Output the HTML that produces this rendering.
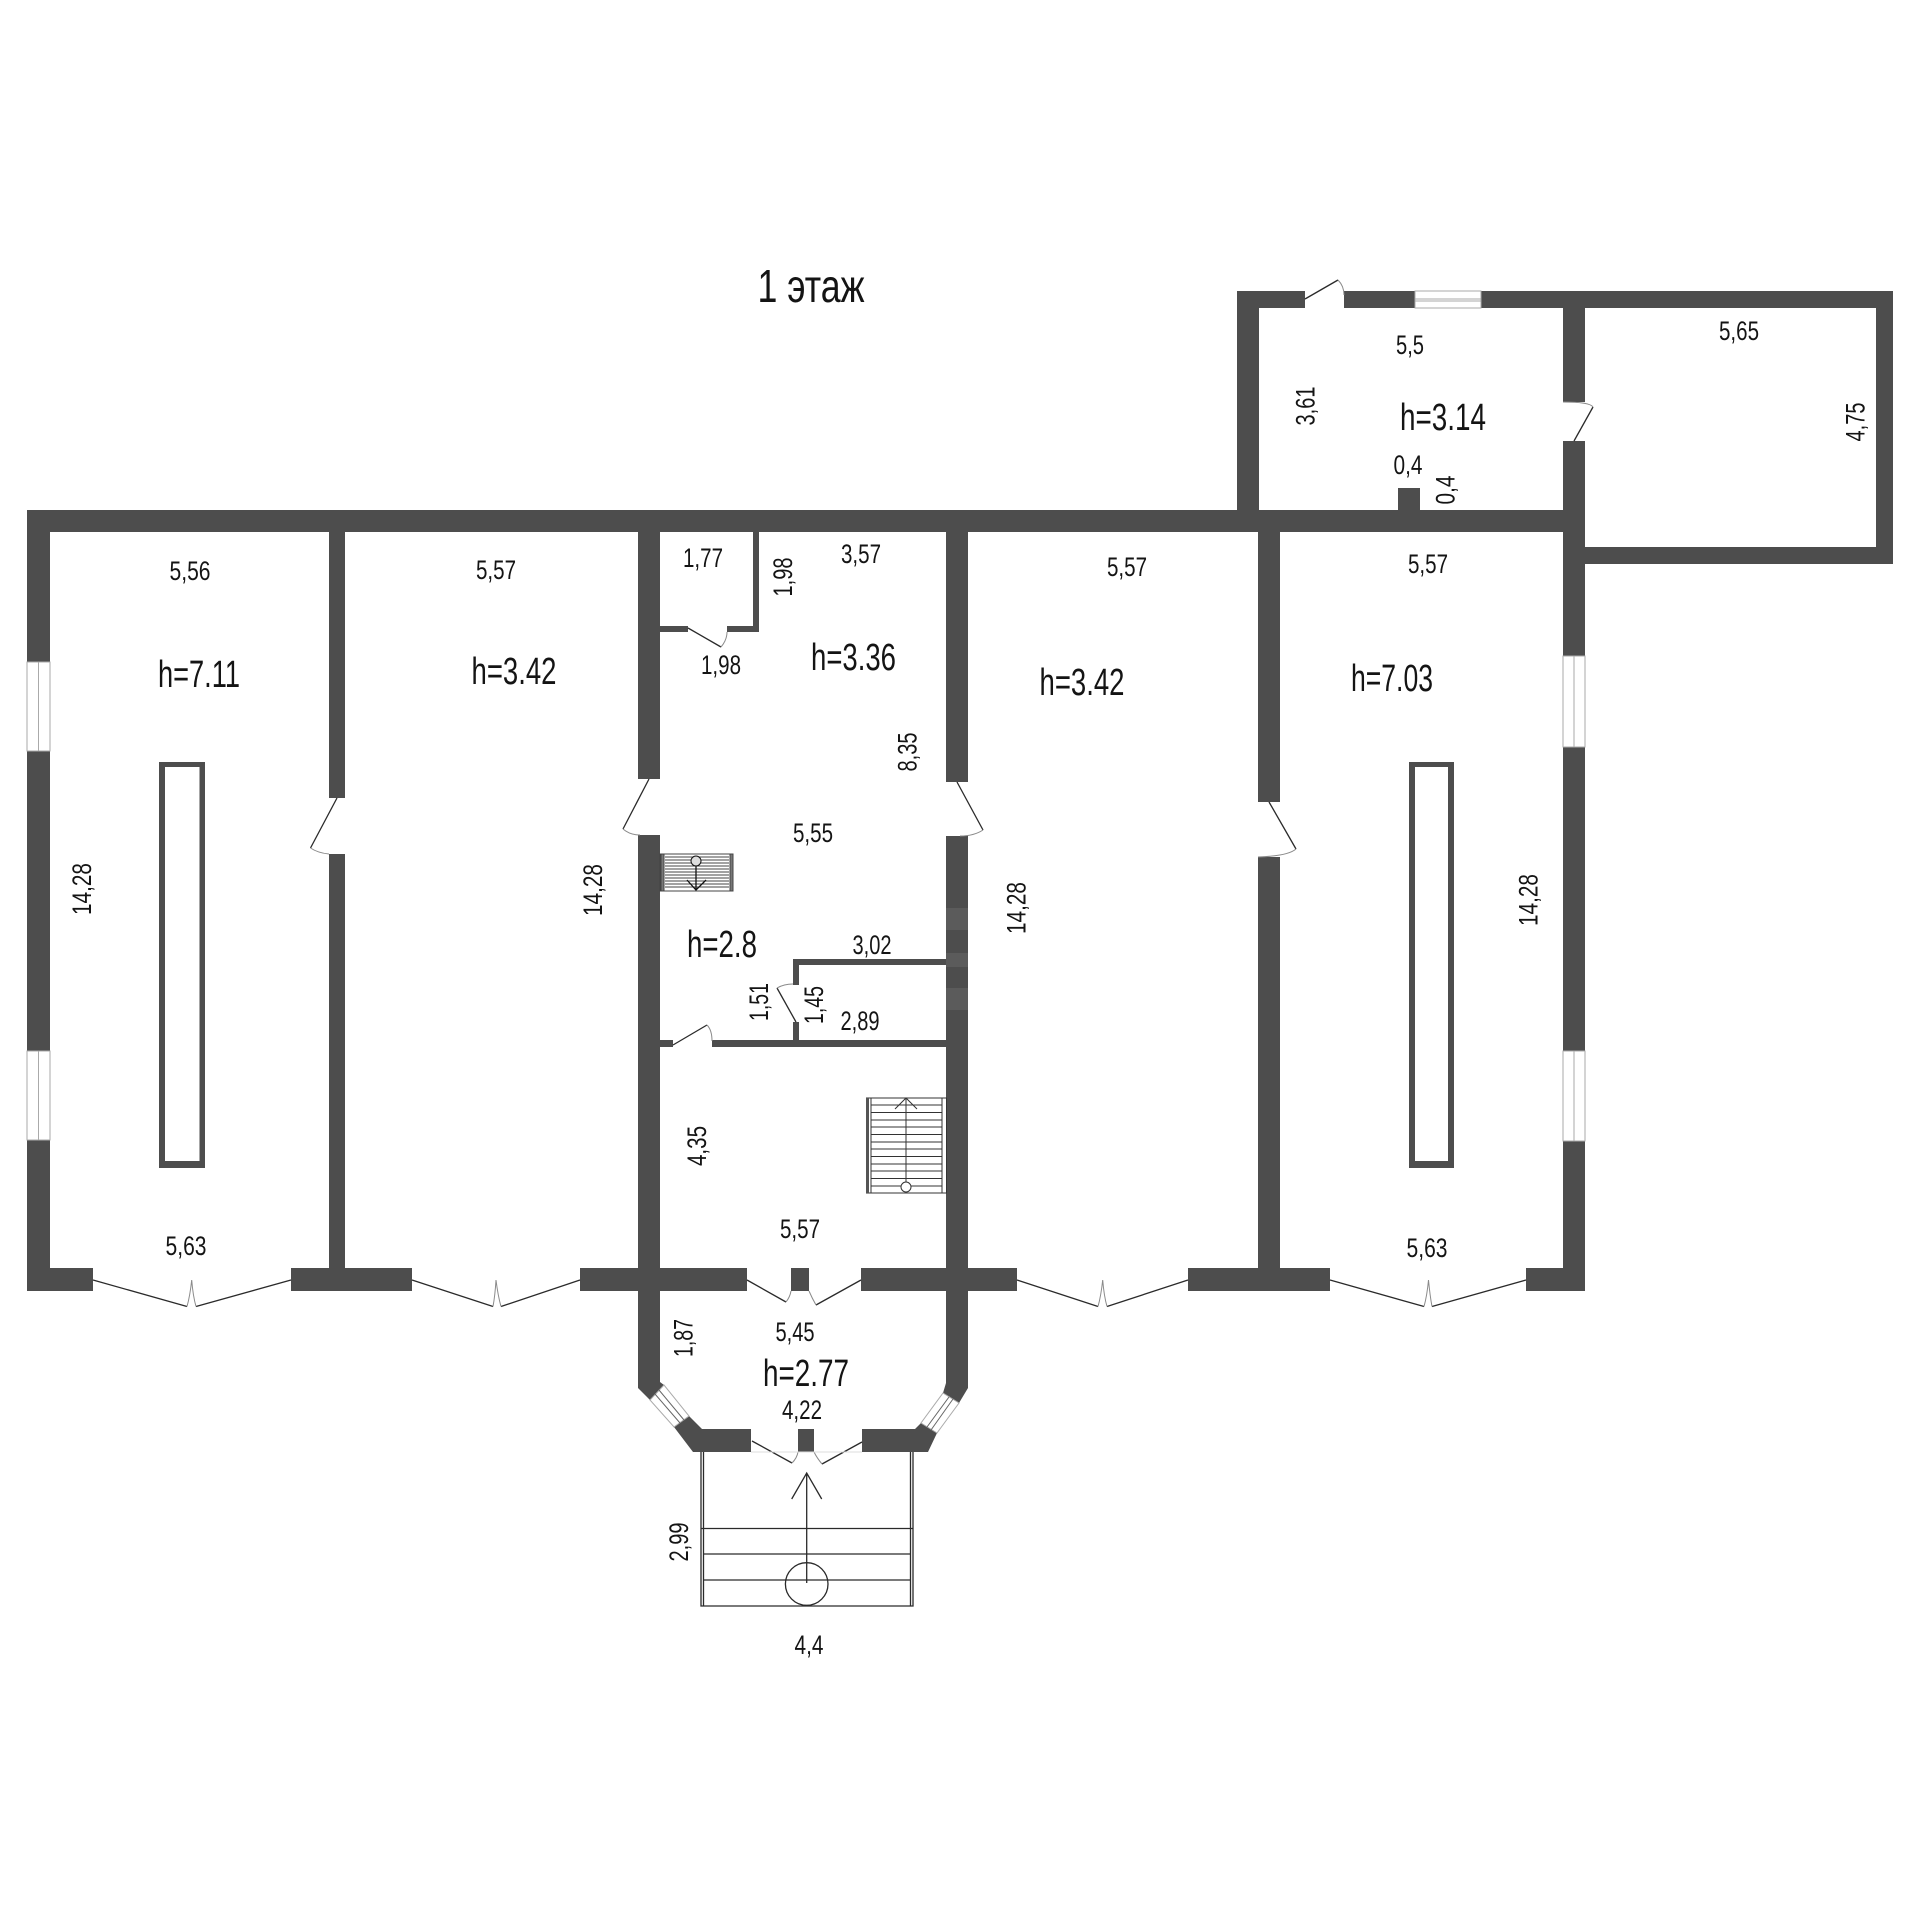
<!DOCTYPE html>
<html><head><meta charset="utf-8"><style>
html,body{margin:0;padding:0;background:#fff;width:1920px;height:1920px;overflow:hidden}
svg{display:block}
text{font-family:"Liberation Sans Narrow","Liberation Sans",sans-serif;fill:#141414;text-anchor:middle}
.s{font-size:27px}.b{font-size:38px}
.w{fill:#4d4d4d}
.l{fill:none;stroke:#2a2a2a;stroke-width:1.3}
.a{fill:none;stroke:#8a8a8a;stroke-width:1}
.g{fill:#fff;stroke:#aaa;stroke-width:1}
</style></head><body>
<svg width="1920" height="1920" viewBox="0 0 1920 1920" xmlns="http://www.w3.org/2000/svg">
<rect width="1920" height="1920" fill="#fff"/>
<g class="w">
<rect x="27" y="510" width="1558" height="22"/>
<rect x="27" y="510" width="23" height="152"/>
<rect x="27" y="751" width="23" height="300"/>
<rect x="27" y="1140" width="23" height="151"/>
<rect x="329" y="532" width="16" height="266"/>
<rect x="329" y="854" width="16" height="414"/>
<rect x="638" y="532" width="22" height="247"/>
<rect x="638" y="835" width="22" height="460"/>
<rect x="946" y="532" width="22" height="250"/>
<rect x="946" y="836" width="22" height="460"/>
<rect x="1258" y="532" width="22" height="270"/>
<rect x="1258" y="857" width="22" height="411"/>
<rect x="1563" y="291" width="22" height="111"/>
<rect x="1563" y="441" width="22" height="215"/>
<rect x="1563" y="747" width="22" height="304"/>
<rect x="1563" y="1141" width="22" height="150"/>
<rect x="27" y="1268" width="66" height="23"/>
<rect x="291" y="1268" width="121" height="23"/>
<rect x="580" y="1268" width="167" height="23"/>
<rect x="791" y="1268" width="18" height="23"/>
<rect x="861" y="1268" width="156" height="23"/>
<rect x="1188" y="1268" width="142" height="23"/>
<rect x="1526" y="1268" width="59" height="23"/>
<rect x="1237" y="291" width="22" height="220"/>
<rect x="1237" y="291" width="68" height="17"/>
<rect x="1344" y="291" width="71" height="17"/>
<rect x="1481" y="291" width="412" height="17"/>
<rect x="1876" y="291" width="17" height="273"/>
<rect x="1585" y="547" width="308" height="17"/>
<rect x="1398" y="488" width="22" height="23"/>
<rect x="753" y="532" width="6" height="100"/>
<rect x="660" y="626" width="28" height="6"/>
<rect x="727" y="626" width="32" height="6"/>
<rect x="660" y="1040" width="13" height="7"/>
<rect x="712" y="1040" width="234" height="7"/>
<rect x="793" y="959" width="153" height="6"/>
<rect x="793" y="959" width="6" height="26"/>
<rect x="793" y="1022" width="6" height="20"/>
<path fill-rule="evenodd" d="M159 762H205V1168H159ZM165 767V1161H199.500V767Z"/>
<path fill-rule="evenodd" d="M1409 762H1454V1168H1409ZM1415 767V1161H1448V767Z"/>
<path d="M638 1291H660V1382L664 1385L650 1400L638 1388Z"/>
<path d="M674 1427L689 1416L702 1429H751V1452H693Z"/>
<path d="M946 1291H968V1388L959 1403L943 1393L946 1383Z"/>
<path d="M921 1423L937 1433L928 1452H862V1429H915Z"/>
<rect x="798" y="1429" width="16" height="23"/>
</g>
<g fill="#5b5b5b"><rect x="946" y="908" width="22" height="22"/><rect x="946" y="953" width="22" height="14"/><rect x="946" y="988" width="22" height="22"/></g>

<g class="g">
<rect x="27" y="662" width="23" height="89"/><path d="M38.500 662V751"/>
<rect x="27" y="1051" width="23" height="89"/><path d="M38.500 1051V1140"/>
<rect x="1563" y="656" width="22" height="91"/><path d="M1574 656V747"/>
<rect x="1563" y="1051" width="22" height="90"/><path d="M1574 1051V1141"/>
<rect x="1415" y="291" width="66" height="17"/><path d="M1415 299H1481M1415 301H1481"/>
<path d="M650 1400L664 1385L689 1416L674 1427Z"/><path d="M655 1394L680 1423M659 1390L684 1420" stroke="#666"/>
<path d="M943 1393L959 1403L937 1433L921 1423Z"/><path d="M949 1397L927 1427M953 1399L931 1430" stroke="#666"/>
</g>

<g class="l">
<path d="M337 798L310.500 848"/>
<path d="M649 779L623 829"/>
<path d="M957 782L983 830"/>
<path d="M1269 802L1296 849"/>
<path d="M1574 441L1593 407"/>
<path d="M1305 299L1338 280"/>
<path d="M688 628L721 647"/>
<path d="M796 1022L777 988"/>
<path d="M673 1045L707 1025"/>
<path d="M93 1280L187 1306.500M196 1306.500L291 1280"/>
<path d="M412 1280L493 1306.500M501 1306.500L580 1280"/>
<path d="M1017 1280L1098 1306.500M1107 1306.500L1188 1280"/>
<path d="M1330 1280L1424 1306.500M1432 1306.500L1526 1280"/>
<path d="M747 1280L786 1302M816 1305L861 1280"/>
<path d="M752 1441L792 1463M822 1464L862 1442"/>
</g>
<g class="a">
<path d="M310.500 848Q318 853 329 854"/>
<path d="M623 829Q630 835 640 835"/>
<path d="M983 830Q974 836 960 836"/>
<path d="M1296 849Q1288 856 1258 857"/>
<path d="M1593 407Q1590 402 1563 402"/>
<path d="M1338 280Q1344 286 1344 295"/>
<path d="M721 647Q727 640 727 632"/>
<path d="M777 988Q784 984 793 984"/>
<path d="M707 1025Q712 1030 712 1041"/>
<path d="M187 1306.500Q190 1296 191.700 1280Q193 1296 196 1306.500"/>
<path d="M493 1306.500Q495 1296 496 1280Q498 1296 501 1306.500"/>
<path d="M1098 1306.500Q1101 1296 1102.700 1280Q1104 1296 1107 1306.500"/>
<path d="M1424 1306.500Q1427 1296 1428.500 1280Q1430 1296 1432 1306.500"/>
<path d="M786 1302Q790 1297 791 1291M816 1305Q812 1298 809 1291"/>
<path d="M792 1463Q797 1458 798 1452M822 1464Q817 1458 814 1452"/>
<path d="M751 1452H862" stroke="#ddd"/>
</g>

<g class="l">
<path d="M701 1452V1606H913V1452"/>
<path d="M703.500 1452V1606M910.500 1452V1606M701 1528.500H913M703.500 1554H910.500M703.500 1580H910.500"/>
<path d="M806.700 1583V1473M791.700 1499L806.700 1473L821.700 1499"/>
<circle cx="806.700" cy="1584" r="21.300"/>
</g>
<g fill="none" stroke="#444" stroke-width="1">
<rect x="660" y="854" width="73" height="37"/>
<rect x="661" y="854" width="3" height="37" fill="#777"/>
<rect x="730" y="854" width="3" height="37" fill="#777"/>
<path d="M665 857H729M665 860H729M665 863H729M665 866H729M665 869H729M665 872H729M665 875H729M665 878H729M665 881H729M665 884H729M665 887H729" stroke="#444"/>
<path d="M696 866V890M687 880L696 890L706 880" stroke="#111" stroke-width="1.300"/>
<circle cx="696" cy="861" r="5" fill="#ddd" stroke="#111"/>
</g>
<g fill="none" stroke="#333" stroke-width="1">
<path d="M866 1098H947M866 1193H947"/>
<rect x="866" y="1098" width="3" height="95" fill="#555" stroke="none"/>
<path d="M871 1098V1193M942 1098V1193M946.500 1098V1193"/>
<path d="M871 1105H942M871 1112.500H942M871 1120H942M871 1127H942M871 1134.500H942M871 1142H942M871 1149H942M871 1156.500H942M871 1164H942M871 1171H942M871 1178.500H942M871 1186H942"/>
<path d="M906 1187V1098M895 1109L906 1098L917 1109"/>
<circle cx="906" cy="1187" r="5" fill="#fff"/>
</g>

<text class="b" x="811" y="302" style="font-size:46px" textLength="107" lengthAdjust="spacingAndGlyphs">1 этаж</text>

<text class="b" x="199" y="687" textLength="82" lengthAdjust="spacingAndGlyphs">h=7.11</text>
<text class="b" x="514" y="684" textLength="85" lengthAdjust="spacingAndGlyphs">h=3.42</text>
<text class="b" x="853.500" y="670" textLength="85" lengthAdjust="spacingAndGlyphs">h=3.36</text>
<text class="b" x="1082" y="695" textLength="85" lengthAdjust="spacingAndGlyphs">h=3.42</text>
<text class="b" x="1392" y="691" textLength="82" lengthAdjust="spacingAndGlyphs">h=7.03</text>
<text class="b" x="1443" y="430" textLength="86" lengthAdjust="spacingAndGlyphs">h=3.14</text>
<text class="b" x="722" y="957" textLength="70" lengthAdjust="spacingAndGlyphs">h=2.8</text>
<text class="b" x="806" y="1386" textLength="86" lengthAdjust="spacingAndGlyphs">h=2.77</text>

<g>
<text class="s" x="190" y="580" textLength="41" lengthAdjust="spacingAndGlyphs">5,56</text>
<text class="s" x="496" y="579" textLength="40" lengthAdjust="spacingAndGlyphs">5,57</text>
<text class="s" x="703" y="567" textLength="40" lengthAdjust="spacingAndGlyphs">1,77</text>
<text class="s" x="861" y="563" textLength="40" lengthAdjust="spacingAndGlyphs">3,57</text>
<text class="s" x="721" y="674" textLength="40" lengthAdjust="spacingAndGlyphs">1,98</text>
<text class="s" x="813" y="842" textLength="40" lengthAdjust="spacingAndGlyphs">5,55</text>
<text class="s" x="872" y="954" textLength="39" lengthAdjust="spacingAndGlyphs">3,02</text>
<text class="s" x="860" y="1030" textLength="39" lengthAdjust="spacingAndGlyphs">2,89</text>
<text class="s" x="800" y="1238" textLength="40" lengthAdjust="spacingAndGlyphs">5,57</text>
<text class="s" x="186" y="1255" textLength="41" lengthAdjust="spacingAndGlyphs">5,63</text>
<text class="s" x="795" y="1341" textLength="39" lengthAdjust="spacingAndGlyphs">5,45</text>
<text class="s" x="802" y="1419" textLength="40" lengthAdjust="spacingAndGlyphs">4,22</text>
<text class="s" x="809" y="1654" textLength="29" lengthAdjust="spacingAndGlyphs">4,4</text>
<text class="s" x="1427" y="1257" textLength="41" lengthAdjust="spacingAndGlyphs">5,63</text>
<text class="s" x="1127" y="576" textLength="40" lengthAdjust="spacingAndGlyphs">5,57</text>
<text class="s" x="1428" y="573" textLength="40" lengthAdjust="spacingAndGlyphs">5,57</text>
<text class="s" x="1410" y="354" textLength="28" lengthAdjust="spacingAndGlyphs">5,5</text>
<text class="s" x="1408" y="474" textLength="29" lengthAdjust="spacingAndGlyphs">0,4</text>
<text class="s" x="1739" y="340" textLength="40" lengthAdjust="spacingAndGlyphs">5,65</text>

<text class="s" transform="translate(792 577) rotate(-90)" textLength="39" lengthAdjust="spacingAndGlyphs">1,98</text>
<text class="s" transform="translate(91 889) rotate(-90)" textLength="52" lengthAdjust="spacingAndGlyphs">14,28</text>
<text class="s" transform="translate(602 890) rotate(-90)" textLength="52" lengthAdjust="spacingAndGlyphs">14,28</text>
<text class="s" transform="translate(916.500 752) rotate(-90)" textLength="39" lengthAdjust="spacingAndGlyphs">8,35</text>
<text class="s" transform="translate(768 1002) rotate(-90)" textLength="38" lengthAdjust="spacingAndGlyphs">1,51</text>
<text class="s" transform="translate(823 1005) rotate(-90)" textLength="38" lengthAdjust="spacingAndGlyphs">1,45</text>
<text class="s" transform="translate(706 1146) rotate(-90)" textLength="40" lengthAdjust="spacingAndGlyphs">4,35</text>
<text class="s" transform="translate(692.500 1338) rotate(-90)" textLength="38" lengthAdjust="spacingAndGlyphs">1,87</text>
<text class="s" transform="translate(688 1542) rotate(-90)" textLength="39" lengthAdjust="spacingAndGlyphs">2,99</text>
<text class="s" transform="translate(1025.500 908) rotate(-90)" textLength="52" lengthAdjust="spacingAndGlyphs">14,28</text>
<text class="s" transform="translate(1537.500 900) rotate(-90)" textLength="52" lengthAdjust="spacingAndGlyphs">14,28</text>
<text class="s" transform="translate(1314.500 406) rotate(-90)" textLength="39" lengthAdjust="spacingAndGlyphs">3,61</text>
<text class="s" transform="translate(1454.500 490) rotate(-90)" textLength="29" lengthAdjust="spacingAndGlyphs">0,4</text>
<text class="s" transform="translate(1864.500 422) rotate(-90)" textLength="39" lengthAdjust="spacingAndGlyphs">4,75</text>
</g>
</svg>
</body></html>
